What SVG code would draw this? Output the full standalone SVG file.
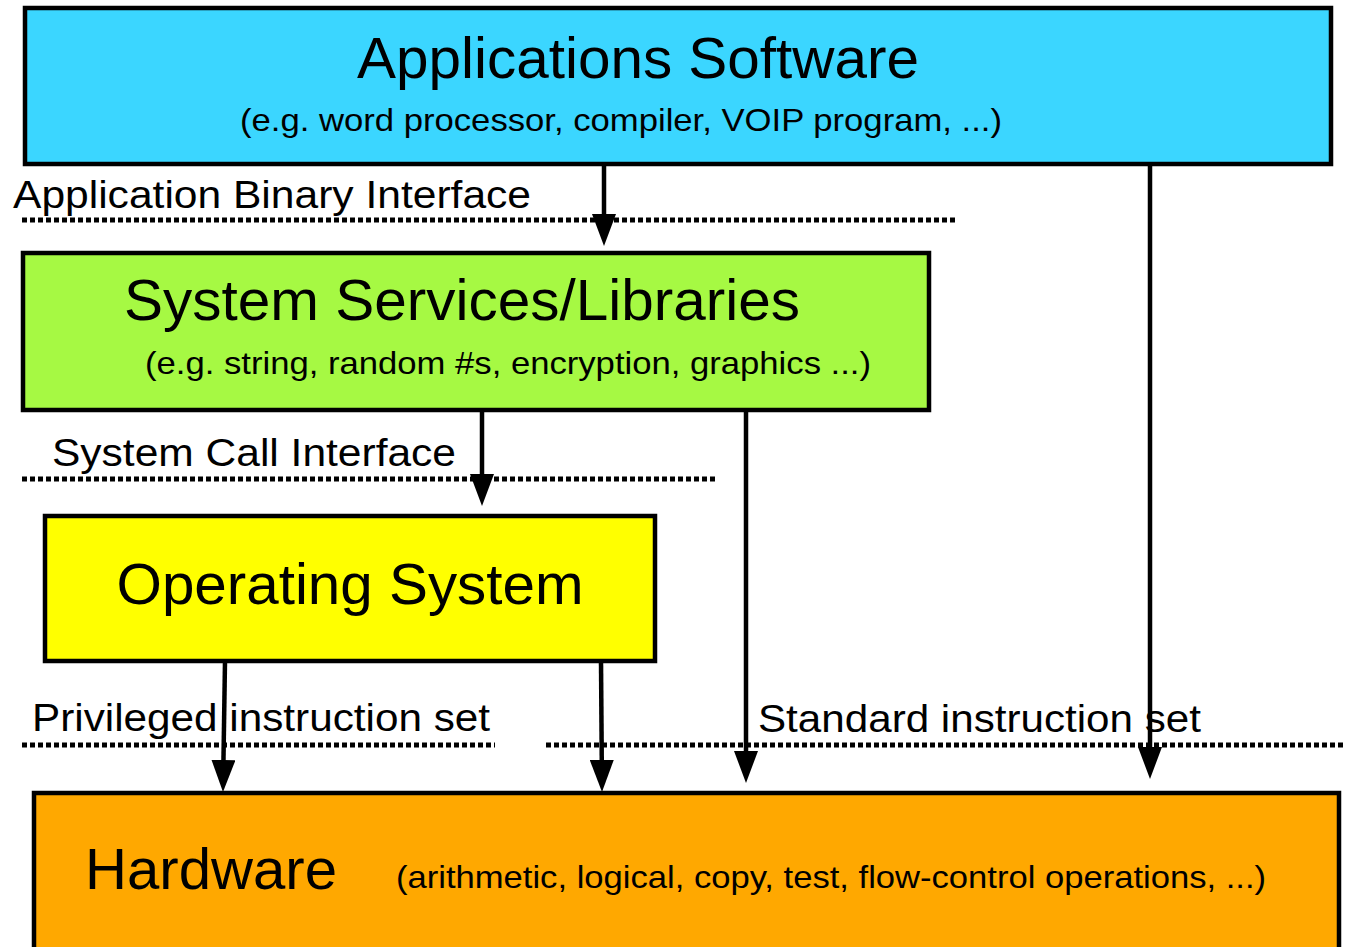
<svg xmlns="http://www.w3.org/2000/svg" width="1346" height="947" viewBox="0 0 1346 947">
<style>
.box{stroke:#000;stroke-width:4.5}
.t{font-family:"Liberation Sans",Arial,sans-serif;fill:#000}
.big{font-size:58px}
.sub{font-size:32px}
.lbl{font-size:38px}
.dot{stroke:#000;stroke-width:5;stroke-dasharray:5 3;fill:none}
.ar{stroke:#000;stroke-width:4.5;fill:none;marker-end:url(#ah)}
</style>
<defs>
<marker id="ah" viewBox="0 0 32 24" refX="5" refY="12" markerWidth="32" markerHeight="24" markerUnits="userSpaceOnUse" orient="auto">
<path d="M0,0 L32,12 L0,24 Z" fill="#000"/>
</marker>
</defs>
<rect width="1346" height="947" fill="#fff"/>
<g id="app">
<rect class="box" x="25" y="8" width="1306" height="156" fill="#3bd6ff"/>
<text class="t big" x="638" y="78" text-anchor="middle" textLength="562" lengthAdjust="spacingAndGlyphs">Applications Software</text>
<text class="t sub" x="621" y="131" text-anchor="middle" textLength="762" lengthAdjust="spacingAndGlyphs">(e.g. word processor, compiler, VOIP program, ...)</text>
</g>
<g id="sys">
<rect class="box" x="23" y="253" width="906" height="157" fill="#a6f943"/>
<text class="t big" x="462" y="320" text-anchor="middle" textLength="676" lengthAdjust="spacingAndGlyphs">System Services/Libraries</text>
<text class="t sub" x="508" y="374" text-anchor="middle" textLength="726" lengthAdjust="spacingAndGlyphs">(e.g. string, random #s, encryption, graphics ...)</text>
</g>
<g id="os">
<rect class="box" x="45" y="516" width="610" height="145" fill="#ffff00"/>
<text class="t big" x="350" y="604" text-anchor="middle" textLength="467" lengthAdjust="spacingAndGlyphs">Operating System</text>
</g>
<g id="hw">
<rect class="box" x="34" y="793" width="1305" height="170" fill="#ffa800"/>
<text class="t big" x="85" y="889" textLength="252" lengthAdjust="spacingAndGlyphs">Hardware</text>
<text class="t sub" x="396" y="888" textLength="870" lengthAdjust="spacingAndGlyphs">(arithmetic, logical, copy, test, flow-control operations, ...)</text>
</g>
<g id="interfaces">
<text class="t lbl" x="13" y="208" textLength="518" lengthAdjust="spacingAndGlyphs">Application Binary Interface</text>
<line class="dot" x1="22" y1="220" x2="958" y2="220"/>
<text class="t lbl" x="52" y="466" textLength="404" lengthAdjust="spacingAndGlyphs">System Call Interface</text>
<line class="dot" x1="22" y1="479" x2="718" y2="479"/>
<text class="t lbl" x="32" y="731" textLength="458" lengthAdjust="spacingAndGlyphs">Privileged instruction set</text>
<line class="dot" x1="22" y1="745" x2="495" y2="745"/>
<text class="t lbl" x="758" y="732" textLength="443" lengthAdjust="spacingAndGlyphs">Standard instruction set</text>
<line class="dot" x1="546" y1="745" x2="1346" y2="745"/>
</g>
<g id="connectors">
<line class="ar" x1="604" y1="164" x2="604" y2="219"/>
<line class="ar" x1="482" y1="410" x2="482" y2="479"/>
<line class="ar" x1="225" y1="661" x2="223.4" y2="765"/>
<line class="ar" x1="601" y1="661" x2="601.8" y2="765"/>
<line class="ar" x1="746" y1="410" x2="746" y2="756"/>
<line class="ar" x1="1150" y1="164" x2="1150" y2="752"/>
</g>
</svg>
